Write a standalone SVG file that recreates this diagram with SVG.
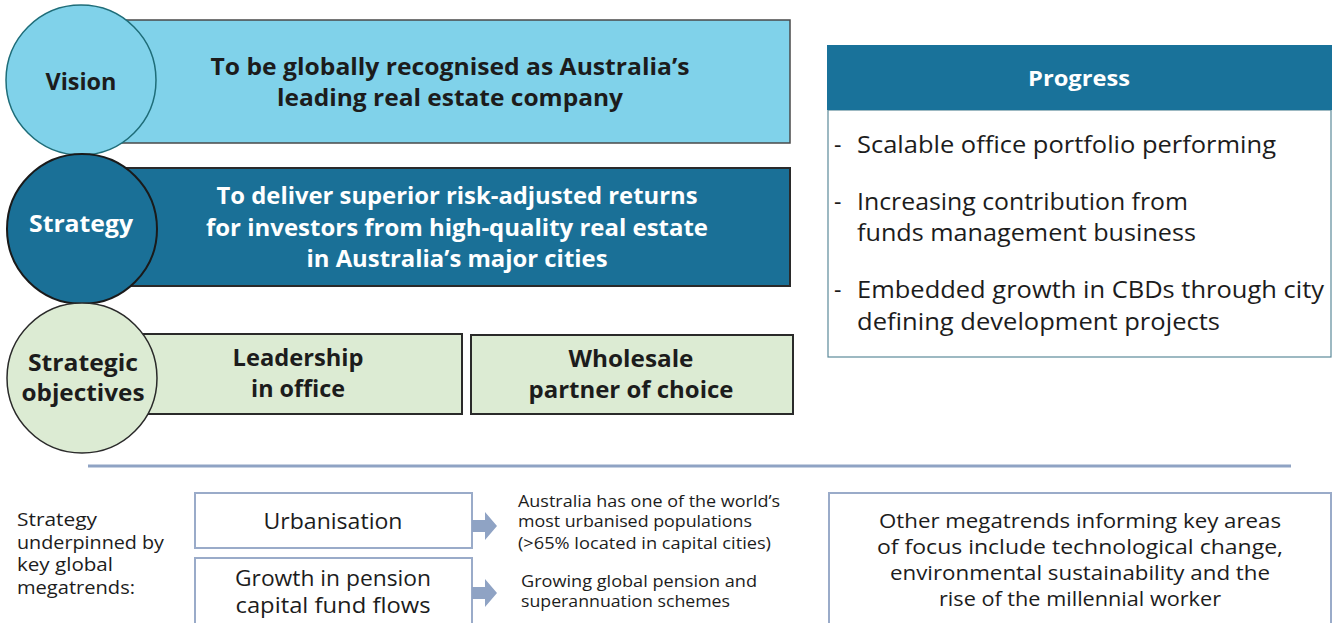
<svg xmlns="http://www.w3.org/2000/svg" width="1333" height="623" viewBox="0 0 1333 623">
<style>
.t{font-family:"Open Sans","Noto Sans","Liberation Sans",sans-serif;fill:#1c1c1c}
.b{font-weight:700}
.c{text-anchor:middle}
.w{fill:#ffffff}
.box{fill:#ffffff;stroke:#9aabc9;stroke-width:2}
.arr{fill:#8fa3c4}
</style>
<rect width="1333" height="623" fill="#ffffff"/>
<g id="vision">
<rect x="110" y="20" width="680" height="123" fill="#80d2ea" stroke="#4a4a4a" stroke-width="1.5"/>
<circle cx="81" cy="80" r="75" fill="#80d2ea" stroke="#1e6d79" stroke-width="1.5"/>
<text class="t b c" x="81" y="90" font-size="23" textLength="71" lengthAdjust="spacingAndGlyphs">Vision</text>
<text class="t b c" x="450" y="75" font-size="23" textLength="479" lengthAdjust="spacingAndGlyphs">To be globally recognised as Australia’s</text>
<text class="t b c" x="450" y="106" font-size="23" textLength="346" lengthAdjust="spacingAndGlyphs">leading real estate company</text>
</g>
<g id="strategy">
<rect x="110" y="168" width="680" height="118" fill="#1a7097" stroke="#2a2a2a" stroke-width="2"/>
<circle cx="82" cy="229" r="75" fill="#1a7097" stroke="#1a1a1a" stroke-width="2"/>
<text class="t b c w" x="81" y="232" font-size="23" textLength="104" lengthAdjust="spacingAndGlyphs">Strategy</text>
<text class="t b c w" x="457" y="204" font-size="23" textLength="481" lengthAdjust="spacingAndGlyphs">To deliver superior risk-adjusted returns</text>
<text class="t b c w" x="457" y="236" font-size="23" textLength="502" lengthAdjust="spacingAndGlyphs">for investors from high-quality real estate</text>
<text class="t b c w" x="457" y="267" font-size="23" textLength="301" lengthAdjust="spacingAndGlyphs">in Australia’s major cities</text>
</g>
<g id="leadership">
<rect x="110" y="334" width="352" height="80" fill="#dcebd3" stroke="#2a2a2a" stroke-width="2"/>
<text class="t b c" x="298" y="366" font-size="23" textLength="131" lengthAdjust="spacingAndGlyphs">Leadership</text>
<text class="t b c" x="298" y="397" font-size="23" textLength="94" lengthAdjust="spacingAndGlyphs">in office</text>
</g>
<g id="objectives">
<circle cx="82" cy="378" r="75" fill="#dcebd3" stroke="#2a2a2a" stroke-width="1.5"/>
<text class="t b c" x="83" y="371" font-size="23" textLength="110" lengthAdjust="spacingAndGlyphs">Strategic</text>
<text class="t b c" x="83" y="401" font-size="23" textLength="123" lengthAdjust="spacingAndGlyphs">objectives</text>
</g>
<g id="wholesale">
<rect x="471" y="335" width="322" height="79" fill="#dcebd3" stroke="#2a2a2a" stroke-width="2"/>
<text class="t b c" x="631" y="367" font-size="23" textLength="125" lengthAdjust="spacingAndGlyphs">Wholesale</text>
<text class="t b c" x="631" y="398" font-size="23" textLength="205" lengthAdjust="spacingAndGlyphs">partner of choice</text>
</g>
<g id="progress">
<rect x="828" y="110" width="503" height="247" fill="#ffffff" stroke="#5c8a9a" stroke-width="1.2"/>
<rect x="827" y="45" width="505" height="65" fill="#19729a"/>
<text class="t b c w" x="1079" y="86" font-size="22" textLength="102" lengthAdjust="spacingAndGlyphs">Progress</text>
<g class="t" font-size="23">
<text x="834" y="153">-</text><text x="857" y="153" textLength="419" lengthAdjust="spacingAndGlyphs">Scalable office portfolio performing</text>
<text x="834" y="210">-</text><text x="857" y="210" textLength="331" lengthAdjust="spacingAndGlyphs">Increasing contribution from</text>
<text x="857" y="241" textLength="339" lengthAdjust="spacingAndGlyphs">funds management business</text>
<text x="834" y="298">-</text><text x="857" y="298" textLength="467" lengthAdjust="spacingAndGlyphs">Embedded growth in CBDs through city</text>
<text x="857" y="330" textLength="363" lengthAdjust="spacingAndGlyphs">defining development projects</text>
</g>
</g>
<line x1="88" y1="466" x2="1291" y2="466" stroke="#8fa3c4" stroke-width="3"/>
<g id="megatrends-label" class="t" font-size="18">
<text x="17" y="526" textLength="80" lengthAdjust="spacingAndGlyphs">Strategy</text>
<text x="17" y="549" textLength="147" lengthAdjust="spacingAndGlyphs">underpinned by</text>
<text x="17" y="571" textLength="96" lengthAdjust="spacingAndGlyphs">key global</text>
<text x="17" y="594" textLength="118" lengthAdjust="spacingAndGlyphs">megatrends:</text>
</g>
<g id="urbanisation">
<rect class="box" x="195" y="493" width="277" height="55"/>
<text class="t c" x="333" y="529" font-size="21" textLength="139" lengthAdjust="spacingAndGlyphs">Urbanisation</text>
</g>
<g id="pension">
<rect class="box" x="195" y="558" width="277" height="70"/>
<text class="t c" x="333" y="586" font-size="21" textLength="196" lengthAdjust="spacingAndGlyphs">Growth in pension</text>
<text class="t c" x="333" y="613" font-size="21" textLength="195" lengthAdjust="spacingAndGlyphs">capital fund flows</text>
</g>
<g id="connectors">
<path class="arr" d="M472,520 H485 V512 L497,526 L485,540 V532 H472 Z"/>
<path class="arr" d="M472,587 H485 V579 L497,593 L485,607 V599 H472 Z"/>
</g>
<g id="urban-note" class="t" font-size="16">
<text x="518" y="507" textLength="262" lengthAdjust="spacingAndGlyphs">Australia has one of the world’s</text>
<text x="518" y="527" textLength="234" lengthAdjust="spacingAndGlyphs">most urbanised populations</text>
<text x="518" y="549" textLength="253" lengthAdjust="spacingAndGlyphs">(&gt;65% located in capital cities)</text>
</g>
<g id="pension-note" class="t" font-size="16">
<text x="521" y="587" textLength="236" lengthAdjust="spacingAndGlyphs">Growing global pension and</text>
<text x="521" y="607" textLength="209" lengthAdjust="spacingAndGlyphs">superannuation schemes</text>
</g>
<g id="other">
<rect class="box" x="829" y="493" width="502" height="140"/>
<g class="t c" font-size="20">
<text x="1080" y="528" textLength="402" lengthAdjust="spacingAndGlyphs">Other megatrends informing key areas</text>
<text x="1080" y="554" textLength="406" lengthAdjust="spacingAndGlyphs">of focus include technological change,</text>
<text x="1080" y="580" textLength="380" lengthAdjust="spacingAndGlyphs">environmental sustainability and the</text>
<text x="1080" y="606" textLength="282" lengthAdjust="spacingAndGlyphs">rise of the millennial worker</text>
</g>
</g>
</svg>
